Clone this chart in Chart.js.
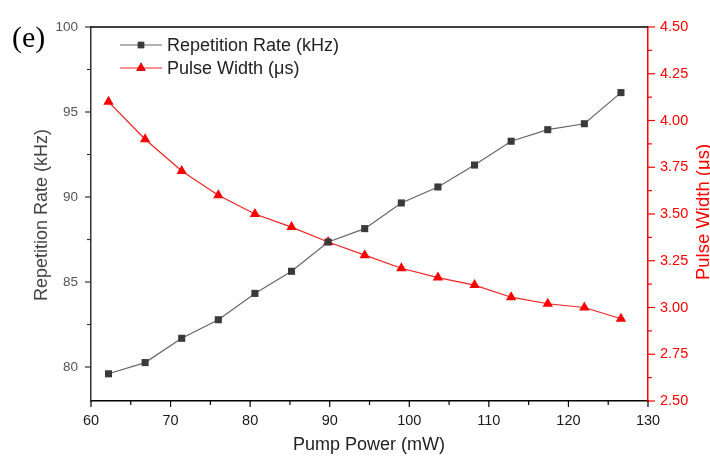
<!DOCTYPE html>
<html>
<head>
<meta charset="utf-8">
<script src="https://cdn.jsdelivr.net/npm/chart.js@4/dist/chart.umd.min.js"></script>
<style>
html,body{margin:0;padding:0;background:#fff;}
#wrap{width:710px;height:456px;position:relative;}
</style>
</head>
<body>
<div id="wrap"><canvas id="c" width="710" height="456"></canvas></div>
<script>
const pumpPower = [62.2, 66.8, 71.4, 76.0, 80.6, 85.2, 89.8, 94.4, 99.0, 103.6, 108.2, 112.8, 117.4, 122.0, 126.6];
const repRate = [79.6, 80.26, 81.69, 82.78, 84.33, 85.63, 87.35, 88.14, 89.65, 90.59, 91.88, 93.28, 93.96, 94.31, 96.14];
const pulseWidth = [4.10, 3.90, 3.73, 3.60, 3.50, 3.43, 3.35, 3.28, 3.21, 3.16, 3.12, 3.055, 3.02, 3.00, 2.94];
const xTicks = [60, 70, 80, 90, 100, 110, 120, 130];
const leftTicks = [80, 85, 90, 95, 100];
const rightTicks = [2.50, 2.75, 3.00, 3.25, 3.50, 3.75, 4.00, 4.25, 4.50];
const repLabel = 'Repetition Rate (kHz)';
const pwLabel = 'Pulse Width (\u03bcs)';
const xTitle = 'Pump Power (mW)';
const panelLabel = '(e)';

const FONT = '"Liberation Sans", Arial, sans-serif';
const RED = '#ff0000';
const GREY_LINE = '#666666';
const GREY_MARK = '#3a3a3a';

const extras = {
  id: 'extras',
  afterDraw(chart) {
    const ctx = chart.ctx;
    const ca = chart.chartArea;
    const sx = chart.scales.x, sl = chart.scales.y, sr = chart.scales.y1;
    ctx.save();
    // top frame line
    ctx.strokeStyle = '#000';
    ctx.lineWidth = 1.5;
    ctx.beginPath(); ctx.moveTo(ca.left, ca.top); ctx.lineTo(ca.right, ca.top); ctx.stroke();

    // x ticks
    ctx.lineWidth = 1.2;
    ctx.strokeStyle = '#000';
    for (let i = 0; i < xTicks.length; i++) {
      const px = sx.getPixelForValue(xTicks[i]);
      ctx.beginPath(); ctx.moveTo(px, ca.bottom); ctx.lineTo(px, ca.bottom + 6); ctx.stroke();
      if (i < xTicks.length - 1) {
        const mx = sx.getPixelForValue((xTicks[i] + xTicks[i + 1]) / 2);
        ctx.beginPath(); ctx.moveTo(mx, ca.bottom); ctx.lineTo(mx, ca.bottom + 4); ctx.stroke();
      }
    }
    // left ticks
    ctx.strokeStyle = '#333';
    for (let i = 0; i < leftTicks.length; i++) {
      const py = sl.getPixelForValue(leftTicks[i]);
      ctx.beginPath(); ctx.moveTo(ca.left, py); ctx.lineTo(ca.left - 6, py); ctx.stroke();
      if (i < leftTicks.length - 1) {
        const my = sl.getPixelForValue((leftTicks[i] + leftTicks[i + 1]) / 2);
        ctx.beginPath(); ctx.moveTo(ca.left, my); ctx.lineTo(ca.left - 4, my); ctx.stroke();
      }
    }
    // right ticks
    ctx.strokeStyle = RED;
    for (let i = 0; i < rightTicks.length; i++) {
      const py = sr.getPixelForValue(rightTicks[i]);
      ctx.beginPath(); ctx.moveTo(ca.right, py); ctx.lineTo(ca.right + 7, py); ctx.stroke();
      if (i < rightTicks.length - 1) {
        const my = sr.getPixelForValue((rightTicks[i] + rightTicks[i + 1]) / 2);
        ctx.beginPath(); ctx.moveTo(ca.right, my); ctx.lineTo(ca.right + 4, my); ctx.stroke();
      }
    }

    // axis titles
    ctx.font = '18px ' + FONT;
    ctx.textAlign = 'center';
    ctx.textBaseline = 'middle';
    ctx.fillStyle = '#222';
    ctx.fillText(xTitle, 369, 445);

    ctx.save();
    ctx.translate(42, 215);
    ctx.rotate(-Math.PI / 2);
    ctx.fillStyle = '#444';
    ctx.fillText(repLabel, 0, 0);
    ctx.restore();

    ctx.save();
    ctx.translate(704, 212);
    ctx.rotate(-Math.PI / 2);
    ctx.font = '18.5px ' + FONT;
    ctx.fillStyle = RED;
    ctx.fillText(pwLabel, 0, 0);
    ctx.restore();

    // panel label
    ctx.font = '30px "Liberation Serif", "Times New Roman", serif';
    ctx.fillStyle = '#000';
    ctx.textAlign = 'left';
    ctx.fillText(panelLabel, 12, 39);

    // legend
    const items = [
      {label: repLabel, line: GREY_LINE, mark: GREY_MARK, style: 'rect', y: 45},
      {label: pwLabel, line: '#ee2222', mark: RED, style: 'triangle', y: 68}
    ];
    items.forEach(it => {
      ctx.strokeStyle = it.line;
      ctx.lineWidth = 1.2;
      ctx.beginPath(); ctx.moveTo(120, it.y); ctx.lineTo(162, it.y); ctx.stroke();
      Chart.helpers.drawPoint(ctx, {pointStyle: it.style, radius: it.style === 'rect' ? 4.5 : 5.5, borderWidth: 0}, 141, it.y);
      ctx.fillStyle = it.mark;
      ctx.fill();
      ctx.font = '18px ' + FONT;
      ctx.fillStyle = '#222';
      ctx.textAlign = 'left';
      ctx.fillText(it.label, 167, it.y + 1);
    });
    ctx.restore();
  }
};

new Chart(document.getElementById('c'), {
  type: 'line',
  data: {
    datasets: [
      {
        label: repLabel,
        data: pumpPower.map((x, i) => ({x: x, y: repRate[i]})),
        yAxisID: 'y',
        borderColor: GREY_LINE,
        borderWidth: 1.2,
        pointStyle: 'rect',
        pointRadius: 5,
        pointBackgroundColor: GREY_MARK,
        pointBorderColor: GREY_MARK,
        pointBorderWidth: 0,
        tension: 0
      },
      {
        label: pwLabel,
        data: pumpPower.map((x, i) => ({x: x, y: pulseWidth[i]})),
        yAxisID: 'y1',
        borderColor: '#ee2222',
        borderWidth: 1.2,
        pointStyle: 'triangle',
        pointRadius: 6,
        pointBackgroundColor: RED,
        pointBorderColor: RED,
        pointBorderWidth: 0,
        tension: 0
      }
    ]
  },
  options: {
    responsive: false,
    animation: false,
    events: [],
    layout: {padding: {top: 27, left: 0, right: 0, bottom: 0}},
    plugins: {legend: {display: false}, tooltip: {enabled: false}},
    scales: {
      x: {
        type: 'linear',
        min: 60, max: 130,
        afterBuildTicks: s => { s.ticks = xTicks.map(v => ({value: v})); },
        afterFit: s => { s.height = 55; },
        grid: {display: false, drawTicks: false},
        border: {display: true, color: '#000', width: 1.5},
        ticks: {font: {family: FONT, size: 14.5}, color: '#1a1a1a', padding: 11, maxRotation: 0}
      },
      y: {
        type: 'linear',
        position: 'left',
        min: 78, max: 100,
        afterBuildTicks: s => { s.ticks = leftTicks.map(v => ({value: v})); },
        afterFit: s => { s.width = 91; },
        grid: {display: false, drawTicks: false},
        border: {display: true, color: '#333', width: 1.5},
        ticks: {font: {family: FONT, size: 13.5}, color: '#555', padding: 13}
      },
      y1: {
        type: 'linear',
        position: 'right',
        min: 2.5, max: 4.5,
        afterBuildTicks: s => { s.ticks = rightTicks.map(v => ({value: v})); },
        afterFit: s => { s.width = 62; },
        grid: {display: false, drawTicks: false},
        border: {display: true, color: RED, width: 1.5},
        ticks: {font: {family: FONT, size: 14.5}, color: RED, padding: 12, callback: v => v.toFixed(2)}
      }
    }
  },
  plugins: [extras]
});
</script>
</body>
</html>
